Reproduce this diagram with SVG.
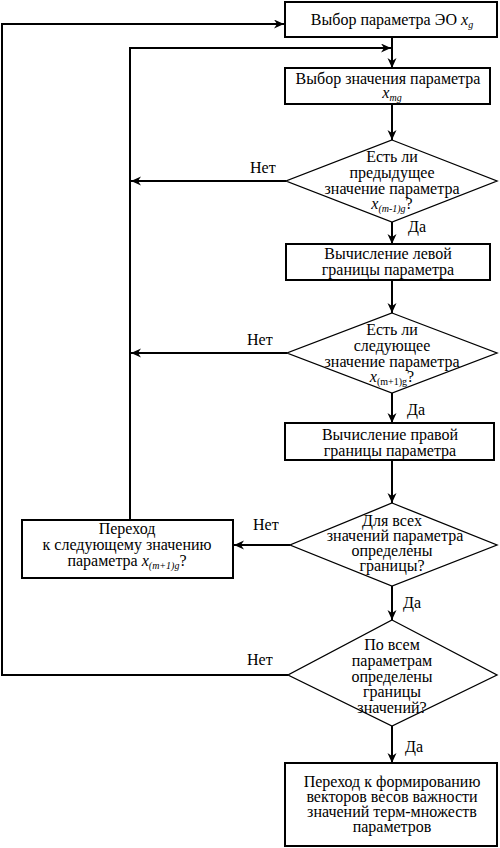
<svg xmlns="http://www.w3.org/2000/svg" width="500" height="848" viewBox="0 0 500 848" font-family="'Liberation Serif', serif" font-size="16">
<defs>
<marker id="ah" markerUnits="userSpaceOnUse" markerWidth="12" markerHeight="10" refX="10" refY="4.5" orient="auto">
<path d="M0,0 L10,4.5 L0,9 L3,4.5 Z" fill="#000"/>
</marker>
<style>
.box{fill:#fff;stroke:#000;stroke-width:2}
.dia{fill:#fff;stroke:#000;stroke-width:1.3}
.ar{fill:none;stroke:#000;stroke-width:2;marker-end:url(#ah)}
.t{font-family:'Liberation Serif',serif;font-size:16px;fill:#000}
.c{text-anchor:middle}
.v{font-style:italic}
.s{font-size:10px}
</style>
</defs>
<rect width="500" height="848" fill="#fff"/>
<g id="connectors">
<line class="ar" x1="392" y1="37" x2="392" y2="68"/>
<polyline class="ar" points="130,520 130,48 391,48"/>
<line class="ar" x1="392" y1="104" x2="392" y2="140"/>
<line class="ar" x1="286" y1="181" x2="131" y2="181"/>
<line class="ar" x1="392" y1="222" x2="392" y2="244"/>
<line class="ar" x1="392" y1="280" x2="392" y2="313"/>
<line class="ar" x1="287" y1="353" x2="131" y2="353"/>
<line class="ar" x1="392" y1="393" x2="392" y2="423"/>
<line class="ar" x1="392" y1="460" x2="392" y2="503"/>
<line class="ar" x1="290" y1="545" x2="234" y2="545"/>
<line class="ar" x1="392" y1="586" x2="392" y2="620"/>
<polyline class="ar" points="288,675 2,675 2,24 284,24"/>
<line class="ar" x1="392" y1="726" x2="392" y2="763"/>
<text class="t" x="250" y="173">Нет</text>
<text class="t" x="408" y="232">Да</text>
<text class="t" x="247" y="345">Нет</text>
<text class="t" x="407" y="415">Да</text>
<text class="t" x="253" y="530">Нет</text>
<text class="t" x="403" y="608">Да</text>
<text class="t" x="247" y="665">Нет</text>
<text class="t" x="405" y="752">Да</text>
</g>
<g id="n1">
<rect class="box" x="285" y="2" width="212" height="35"/>
<text class="t c" x="392" y="25">Выбор параметра ЭО <tspan class="v">x</tspan><tspan class="v s" dy="3">g</tspan></text>
</g>
<g id="n2">
<rect class="box" x="285" y="68" width="205" height="36"/>
<text class="t c" x="388" y="84">Выбор значения параметра</text>
<text class="t c" x="392" y="98"><tspan class="v">x</tspan><tspan class="v s" dy="3">mg</tspan></text>
</g>
<g id="n3">
<polygon class="dia" points="392,140 497,181 392,222 286,181"/>
<text class="t c" x="392" y="162">Есть ли</text>
<text class="t c" x="392" y="178">предыдущее</text>
<text class="t c" x="392" y="194">значение параметра</text>
<text class="t c" x="392" y="209"><tspan class="v">x</tspan><tspan class="v s" dy="3">(m-1)g</tspan><tspan dy="-3">?</tspan></text>
</g>
<g id="n4">
<rect class="box" x="286" y="244" width="204" height="36"/>
<text class="t c" x="388" y="259">Вычисление левой</text>
<text class="t c" x="388" y="275">границы параметра</text>
</g>
<g id="n5">
<polygon class="dia" points="392,313 497,353 392,393 287,353"/>
<text class="t c" x="392" y="335">Есть ли</text>
<text class="t c" x="392" y="351">следующее</text>
<text class="t c" x="392" y="367">значение параметра</text>
<text class="t c" x="392" y="382"><tspan class="v">x</tspan><tspan class="s" dy="3">(m+1)g</tspan><tspan dy="-3">?</tspan></text>
</g>
<g id="n6">
<rect class="box" x="285" y="423" width="209" height="37"/>
<text class="t c" x="390" y="440">Вычисление правой</text>
<text class="t c" x="390" y="456">границы параметра</text>
</g>
<g id="n7">
<polygon class="dia" points="392,503 497,545 392,586 290,545"/>
<text class="t c" x="392" y="526">Для всех</text>
<text class="t c" x="395" y="541">значений параметра</text>
<text class="t c" x="392" y="556">определены</text>
<text class="t c" x="392" y="571">границы?</text>
</g>
<g id="n8">
<rect class="box" x="22" y="520" width="211" height="58"/>
<text class="t c" x="127" y="534">Переход</text>
<text class="t c" x="127" y="550">к следующему значению</text>
<text class="t c" x="127" y="566">параметра <tspan class="v">x</tspan><tspan class="v s" dy="3">(m+1)g</tspan><tspan dy="-3">?</tspan></text>
</g>
<g id="n9">
<polygon class="dia" points="392,620 497,675 392,726 288,675"/>
<text class="t c" x="392" y="650">По всем</text>
<text class="t c" x="392" y="666">параметрам</text>
<text class="t c" x="392" y="682">определены</text>
<text class="t c" x="392" y="697">границы</text>
<text class="t c" x="392" y="713">значений?</text>
</g>
<g id="n10">
<rect class="box" x="285" y="763" width="212" height="83"/>
<text class="t c" x="392" y="787">Переход к формированию</text>
<text class="t c" x="392" y="802">векторов весов важности</text>
<text class="t c" x="392" y="817">значений терм-множеств</text>
<text class="t c" x="392" y="832">параметров</text>
</g>
</svg>
